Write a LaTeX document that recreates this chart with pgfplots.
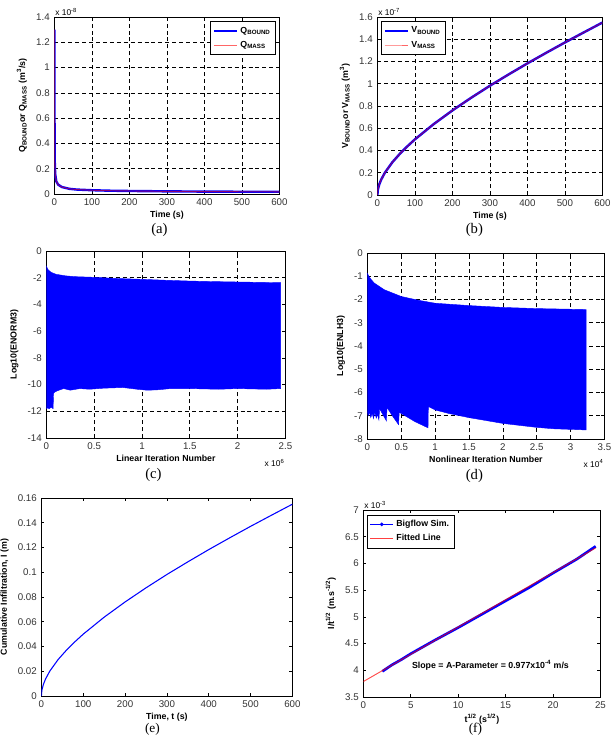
\documentclass[border=0pt]{standalone}
\usepackage{pgfplots}
\pgfplotsset{compat=1.18}
\usepackage{fontspec}
\setmainfont{Liberation Sans}
\newfontfamily\capfont{Liberation Serif}
\begin{document}
\tikzset{multlab/.style={font=\fontsize{6.3}{7}\selectfont, inner sep=0.5pt}}
\pgfplotsset{
  mstyle/.style={
    scale only axis,
    clip mode=individual,
    tick align=inside,
    major tick length=2.2pt,
    axis line style={line width=0.6pt},
    every tick/.style={black,line width=0.5pt},
    grid=major,
    major grid style={black, line width=0.5pt, dash pattern=on 3pt off 2.2pt},
    tick label style={font=\fontsize{7.3}{8}\selectfont, text=black!80},
    label style={font=\fontsize{6.6}{8}\selectfont\bfseries},
    /pgf/number format/assume math mode=true,
    scaled ticks=false,
    legend cell align=left,
    legend style={font=\fontsize{6.6}{8}\selectfont\bfseries, draw=black, line width=0.6pt, inner sep=1.8pt, row sep=0.5pt},
  }
}
\begin{tikzpicture}
\path[use as bounding box] (0,0) rectangle (453.75pt,-552pt);

% ---------------- (a)
\begin{axis}[mstyle, at={(35.25pt,-145.5pt)}, anchor=south west,
  width=168.75pt, height=132.75pt,
  xmin=0, xmax=600, ymin=0, ymax=1.4,
  xtick={0,100,...,600}, ytick={0,0.2,...,1.4},
  yticklabels={0,0.2,0.4,0.6,0.8,1,1.2,1.4},
  xlabel={Time (s)},
  ylabel={Q\textsubscript{BOUND}or Q\textsubscript{MASS} (m\textsuperscript{3}/s)},
  xlabel style={yshift=3pt}, ylabel style={yshift=0pt},
  legend style={at={(0.985,0.975)}, anchor=north east}]
\addplot[blue, line width=1.8pt, forget plot] coordinates {(0,1.3)(0.3,0.6)(1,0.25)(2,0.16)(5,0.1)(10,0.074)(20,0.055)(40,0.041)(60,0.035)(100,0.030)(150,0.026)(200,0.024)(300,0.021)(400,0.019)(500,0.018)(600,0.0175)};
\addplot[red, line width=0.7pt, opacity=0.55, forget plot] coordinates {(0,1.3)(0.3,0.6)(1,0.25)(2,0.16)(5,0.1)(10,0.074)(20,0.055)(40,0.041)(60,0.035)(100,0.030)(150,0.026)(200,0.024)(300,0.021)(400,0.019)(500,0.018)(600,0.0175)};
\addlegendimage{blue, line width=1.8pt}
\addlegendentry{Q\textsubscript{BOUND}}
\addlegendimage{red!60, line width=0.7pt}
\addlegendentry{Q\textsubscript{MASS}}
\node[multlab, anchor=south west] at (rel axis cs:0,1) {x 10\textsuperscript{-8}};
\end{axis}
\node[font=\capfont\fontsize{11}{13}\selectfont] at (114pt,-172.5pt) {(a)};

% ---------------- (b)
\begin{axis}[mstyle, at={(277.5pt,-146.25pt)}, anchor=south west,
  width=168.75pt, height=133.5pt,
  xmin=0, xmax=600, ymin=0, ymax=1.6,
  xtick={0,100,...,600}, ytick={0,0.2,...,1.6},
  yticklabels={0,0.2,0.4,0.6,0.8,1,1.2,1.4,1.6},
  xlabel={Time (s)},
  ylabel={V\textsubscript{BOUND}or V\textsubscript{MASS} (m\textsuperscript{3})},
  xlabel style={yshift=3pt}, ylabel style={yshift=0pt},
  legend style={at={(0.015,0.975)}, anchor=north west}]
\addplot[blue, line width=1.8pt, forget plot] coordinates {(0,0)(1,0.0417)(2,0.0595)(5,0.0958)(10,0.138)(20,0.201)(40,0.295)(60,0.371)(80,0.438)(100,0.5)(150,0.637)(200,0.760)(250,0.874)(300,0.982)(350,1.084)(400,1.183)(450,1.278)(500,1.371)(550,1.461)(600,1.55)};
\addplot[red, line width=0.7pt, opacity=0.55, forget plot] coordinates {(0,0)(1,0.0417)(2,0.0595)(5,0.0958)(10,0.138)(20,0.201)(40,0.295)(60,0.371)(80,0.438)(100,0.5)(150,0.637)(200,0.760)(250,0.874)(300,0.982)(350,1.084)(400,1.183)(450,1.278)(500,1.371)(550,1.461)(600,1.55)};
\addlegendimage{blue, line width=1.8pt}
\addlegendentry{V\textsubscript{BOUND}}
\addlegendimage{red!60, line width=0.7pt}
\addlegendentry{V\textsubscript{MASS}}
\node[multlab, anchor=south west] at (rel axis cs:0,1) {x 10\textsuperscript{-7}};
\end{axis}
\node[font=\capfont\fontsize{11}{13}\selectfont] at (350.25pt,-172.5pt) {(b)};

% ---------------- (c)
\begin{axis}[mstyle, at={(29.25pt,-328.5pt)}, anchor=south west,
  width=179.25pt, height=140.25pt,
  xmin=0, xmax=2.5, ymin=-14, ymax=0,
  xtick={0,0.5,...,2.5}, ytick={-14,-12,...,0},
  xticklabels={0,0.5,1,1.5,2,2.5},
  xlabel={Linear Iteration Number},
  ylabel={Log10(ENORM3)},
  xlabel style={yshift=3pt}, ylabel style={yshift=0pt}]
\addplot[fill=blue, draw=blue, line width=0.3pt] coordinates {
(0,-1.1)(0.01,-1.3)(0.02,-1.42)(0.05,-1.6)(0.1,-1.74)(0.2,-1.86)(0.3,-1.92)(0.5,-1.97)(0.75,-2.06)(1.0,-2.12)(1.25,-2.19)(1.5,-2.25)(1.75,-2.29)(2.0,-2.32)(2.25,-2.35)(2.45,-2.37)
(2.45,-10.3)(2.3,-10.35)(2.0,-10.3)(1.8,-10.35)(1.5,-10.3)(1.3,-10.3)(1.15,-10.4)(1.05,-10.42)(0.95,-10.35)(0.8,-10.22)(0.6,-10.27)(0.45,-10.35)(0.35,-10.3)(0.25,-10.42)(0.18,-10.3)(0.12,-10.45)(0.09,-10.55)(0.075,-10.65)(0.07,-11.8)(0.05,-11.7)(0.03,-11.8)(0.01,-11.75)(0,-11.8)};
\node[multlab, anchor=north east] at ([yshift=-15pt]rel axis cs:1,0) {x 10\textsuperscript{6}};
\end{axis}
\node[font=\capfont\fontsize{11}{13}\selectfont] at (109.5pt,-356.25pt) {(c)};

% ---------------- (d)
\begin{axis}[mstyle, at={(270pt,-329.25pt)}, anchor=south west,
  width=177.75pt, height=139.5pt,
  xmin=0, xmax=3.5, ymin=-8, ymax=0,
  xtick={0,0.5,...,3.5}, ytick={-8,-7,...,0},
  xticklabels={0,0.5,1,1.5,2,2.5,3,3.5},
  xlabel={Nonlinear Iteration Number},
  ylabel={Log10(ENLH3)},
  xlabel style={yshift=3pt}, ylabel style={yshift=0pt}]
\addplot[fill=blue, draw=blue, line width=0.3pt] coordinates {
(0,-0.86)(0.02,-1.0)(0.05,-1.12)(0.1,-1.29)(0.25,-1.58)(0.5,-1.87)(0.75,-2.03)(1.0,-2.16)(1.5,-2.26)(2.0,-2.34)(2.5,-2.39)(3.23,-2.43)
(3.23,-7.61)(2.75,-7.56)(2.5,-7.5)(2.0,-7.33)(1.5,-7.08)(1.2,-6.9)(1.0,-6.75)(0.9,-6.6)(0.895,-7.52)(0.7,-7.25)(0.47,-6.85)(0.46,-7.38)(0.38,-7.05)(0.29,-6.65)(0.28,-7.22)(0.18,-6.7)(0.17,-7.18)(0.15,-6.95)(0.13,-7.1)(0.11,-6.85)(0.09,-7.12)(0.07,-6.9)(0.05,-7.08)(0.03,-6.85)(0.01,-7.0)(0,-6.8)};
\node[multlab, anchor=north east] at ([yshift=-15pt]rel axis cs:1,0) {x 10\textsuperscript{4}};
\end{axis}
\node[font=\capfont\fontsize{11}{13}\selectfont] at (350.25pt,-357pt) {(d)};

% ---------------- (e)
\begin{axis}[mstyle, grid=none, at={(25.5pt,-522pt)}, anchor=south west,
  width=188.25pt, height=148.5pt,
  xmin=0, xmax=600, ymin=0, ymax=0.16,
  xtick={0,100,...,600}, ytick={0,0.02,...,0.16},
  yticklabels={0,0.02,0.04,0.06,0.08,0.1,0.12,0.14,0.16},
  xlabel={Time, t (s)},
  ylabel={Cumulative Infiltration, I (m)},
  xlabel style={yshift=3pt}, ylabel style={yshift=0pt}]
\addplot[blue, line width=0.8pt] coordinates {(0,0)(1,0.00417)(2,0.00595)(5,0.00958)(10,0.0138)(20,0.0201)(40,0.0295)(60,0.0371)(80,0.0438)(100,0.05)(150,0.0637)(200,0.0760)(250,0.0874)(300,0.0982)(350,0.1084)(400,0.1183)(450,0.1278)(500,0.1371)(550,0.1461)(600,0.155)};
\end{axis}
\node[font=\capfont\fontsize{10}{12}\selectfont, inner sep=0pt] at (108.75pt,-547pt) {(e)};

% ---------------- (f)
\begin{axis}[mstyle, grid=none, at={(267pt,-522.75pt)}, anchor=south west,
  width=177.75pt, height=140.25pt,
  xmin=0, xmax=25, ymin=3.5, ymax=7,
  xtick={0,5,...,25}, ytick={3.5,4,...,7},
  yticklabels={3.5,4,4.5,5,5.5,6,6.5,7},
  xlabel={t\textsuperscript{1/2} (s\textsuperscript{1/2})},
  ylabel={I/t\textsuperscript{1/2} (m.s\textsuperscript{-1/2})},
  xlabel style={yshift=3pt}, ylabel style={yshift=0pt},
  legend style={at={(0.015,0.975)}, anchor=north west}]
\addplot[blue, line width=2pt, forget plot] coordinates {(2,3.98)(2.5,4.04)(3,4.10)(4,4.20)(5,4.31)(7.5,4.56)(10,4.80)(12.5,5.05)(15,5.30)(17.5,5.55)(20,5.82)(22.5,6.08)(24.5,6.32)};
\addplot[red, line width=0.7pt, opacity=0.7, forget plot] coordinates {(0,3.79)(24.5,6.29)};
\addlegendimage{blue, line width=0.9pt, mark=*, mark size=0.9pt}
\addlegendentry{Bigflow Sim.}
\addlegendimage{red!75, line width=0.9pt}
\addlegendentry{Fitted Line}
\node[font=\fontsize{6.6}{8}\selectfont\bfseries] at (axis cs:13.4,4.1) {Slope = A-Parameter = 0.977x10\textsuperscript{-4} m/s};
\node[multlab, anchor=south west] at (rel axis cs:0,1) {x 10\textsuperscript{-3}};
\end{axis}
\node[font=\capfont\fontsize{10}{12}\selectfont, inner sep=0pt] at (351pt,-547pt) {(f)};
\end{tikzpicture}
\end{document}
